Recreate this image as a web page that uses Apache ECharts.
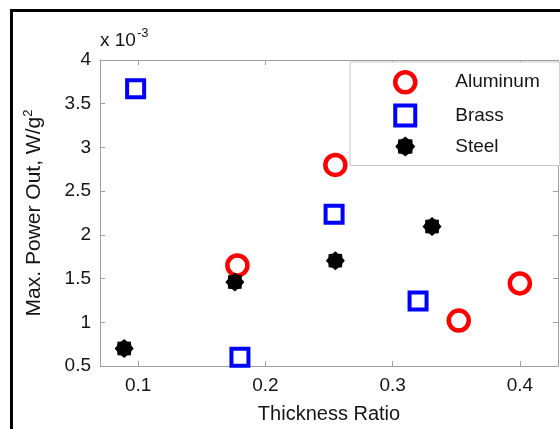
<!DOCTYPE html>
<html>
<head>
<meta charset="utf-8">
<script src="https://cdn.jsdelivr.net/npm/echarts@6/dist/echarts.min.js"></script>
<style>html,body{margin:0;padding:0;background:#fff;}#c{width:560px;height:429px;}</style>
</head>
<body>
<div id="c"></div>
<script>
// Data (y values in units of 1e-3 W/g^2)
const seriesNames = ['Aluminum', 'Brass', 'Steel'];
const xAluminum = [0.178, 0.255, 0.352, 0.400];
const yAluminum = [1.65, 2.80, 1.02, 1.445];
const xBrass = [0.098, 0.180, 0.254, 0.320];
const yBrass = [3.67, 0.60, 2.235, 1.243];
const xSteel = [0.089, 0.176, 0.255, 0.331];
const ySteel = [0.70, 1.46, 1.705, 2.095];
const xTicks = [0.1, 0.2, 0.3, 0.4];
const yTicks = [0.5, 1, 1.5, 2, 2.5, 3, 3.5, 4];

const FONT = '"Liberation Sans", Arial, Helvetica, sans-serif';
const TXT = '#151515';
const AX = '#a0a0a0';

function starPath(n, rOut, rIn) {
  let d = '';
  for (let i = 0; i < 2 * n; i++) {
    const r = i % 2 === 0 ? rOut : rIn;
    const a = Math.PI * i / n - Math.PI / 2;
    const px = (50 + 50 * r * Math.cos(a)).toFixed(2);
    const py = (50 + 50 * r * Math.sin(a)).toFixed(2);
    d += (i === 0 ? 'M' : 'L') + px + ' ' + py + ' ';
  }
  return 'path://' + d + 'Z';
}
const STAR = starPath(8, 1, 0.8);

const pairs = (xs, ys) => xs.map((x, i) => [x, ys[i]]);

const styles = {
  Aluminum: { symbol: 'circle', symbolSize: 20, itemStyle: { color: 'rgba(255,255,255,0)', borderColor: '#ff0000', borderWidth: 4.5, opacity: 1 } },
  Brass: { symbol: 'rect', symbolSize: 17, itemStyle: { color: 'rgba(255,255,255,0)', borderColor: '#0000ff', borderWidth: 4, opacity: 1 } },
  Steel: { symbol: STAR, symbolSize: 19, itemStyle: { color: '#000000', borderColor: '#000000', borderWidth: 0, opacity: 1 } }
};
const dataMap = {
  Aluminum: pairs(xAluminum, yAluminum),
  Brass: pairs(xBrass, yBrass),
  Steel: pairs(xSteel, ySteel)
};

const axisCommon = {
  axisLine: { show: true, onZero: false, lineStyle: { color: AX, width: 1 } },
  axisTick: { show: true, inside: true, length: 5, lineStyle: { color: AX } },
  splitLine: { show: false }
};

const chart = echarts.init(document.getElementById('c'), null, { renderer: 'canvas' });
chart.setOption({
  backgroundColor: '#ffffff',
  animation: false,
  grid: { left: 100, top: 60, right: 2, bottom: 61 },
  graphic: [
    { type: 'rect', shape: { x: 11.5, y: 10.5, width: 700, height: 600 }, style: { fill: 'none', stroke: '#000', lineWidth: 3 }, z: 100, silent: true },
    { type: 'text', x: 100, y: 27, style: { text: 'x 10{s|-3}', font: '19px ' + FONT, fill: TXT, rich: { s: { fontSize: 13, fontFamily: FONT, fill: TXT, padding: [0, 0, 15, 1] } } } }
  ],
  xAxis: [
    Object.assign({}, axisCommon, {
      type: 'value', position: 'bottom', min: 0.07, max: 0.43,
      axisTick: Object.assign({}, axisCommon.axisTick, { customValues: xTicks }),
      axisLabel: { customValues: xTicks, color: TXT, fontSize: 19, fontFamily: FONT, margin: 10 },
      name: 'Thickness Ratio', nameLocation: 'middle', nameGap: 38,
      nameTextStyle: { color: TXT, fontSize: 20, fontFamily: FONT }
    }),
    Object.assign({}, axisCommon, {
      type: 'value', position: 'top', min: 0.07, max: 0.43,
      axisTick: Object.assign({}, axisCommon.axisTick, { customValues: xTicks }),
      axisLabel: { show: false }
    })
  ],
  yAxis: [
    Object.assign({}, axisCommon, {
      type: 'value', position: 'left', min: 0.5, max: 4, interval: 0.5,
      axisLabel: { color: TXT, fontSize: 19, fontFamily: FONT, margin: 9 },
      name: 'Max. Power Out, W/g{s|2}', nameLocation: 'middle', nameGap: 53, nameRotate: 90,
      nameTextStyle: { color: TXT, fontSize: 21, fontFamily: FONT,
        rich: { s: { fontSize: 13, fontFamily: FONT, color: TXT, padding: [0, 0, 12, 0] } } }
    }),
    Object.assign({}, axisCommon, {
      type: 'value', position: 'right', min: 0.5, max: 4, interval: 0.5,
      axisLabel: { show: false }
    })
  ],
  legend: {
    orient: 'vertical', left: 350, top: 62,
    align: 'left',
    padding: [8, 20, 9, 43],
    itemWidth: 20, itemHeight: 20, itemGap: 9,
    symbolKeepAspect: true,
    backgroundColor: '#ffffff', borderColor: '#c8c8c8', borderWidth: 1, borderRadius: 0,
    textStyle: { color: TXT, fontSize: 19, fontFamily: FONT, padding: [0, 0, 0, 35] },
    data: seriesNames.map(n => ({ name: n, icon: styles[n].symbol, itemStyle: styles[n].itemStyle })),
    z: 10
  },
  series: seriesNames.map(n => ({
    name: n, type: 'scatter', xAxisIndex: 0, yAxisIndex: 0,
    symbol: styles[n].symbol, symbolSize: styles[n].symbolSize,
    itemStyle: styles[n].itemStyle,
    data: dataMap[n]
  }))
});
</script>
</body>
</html>
